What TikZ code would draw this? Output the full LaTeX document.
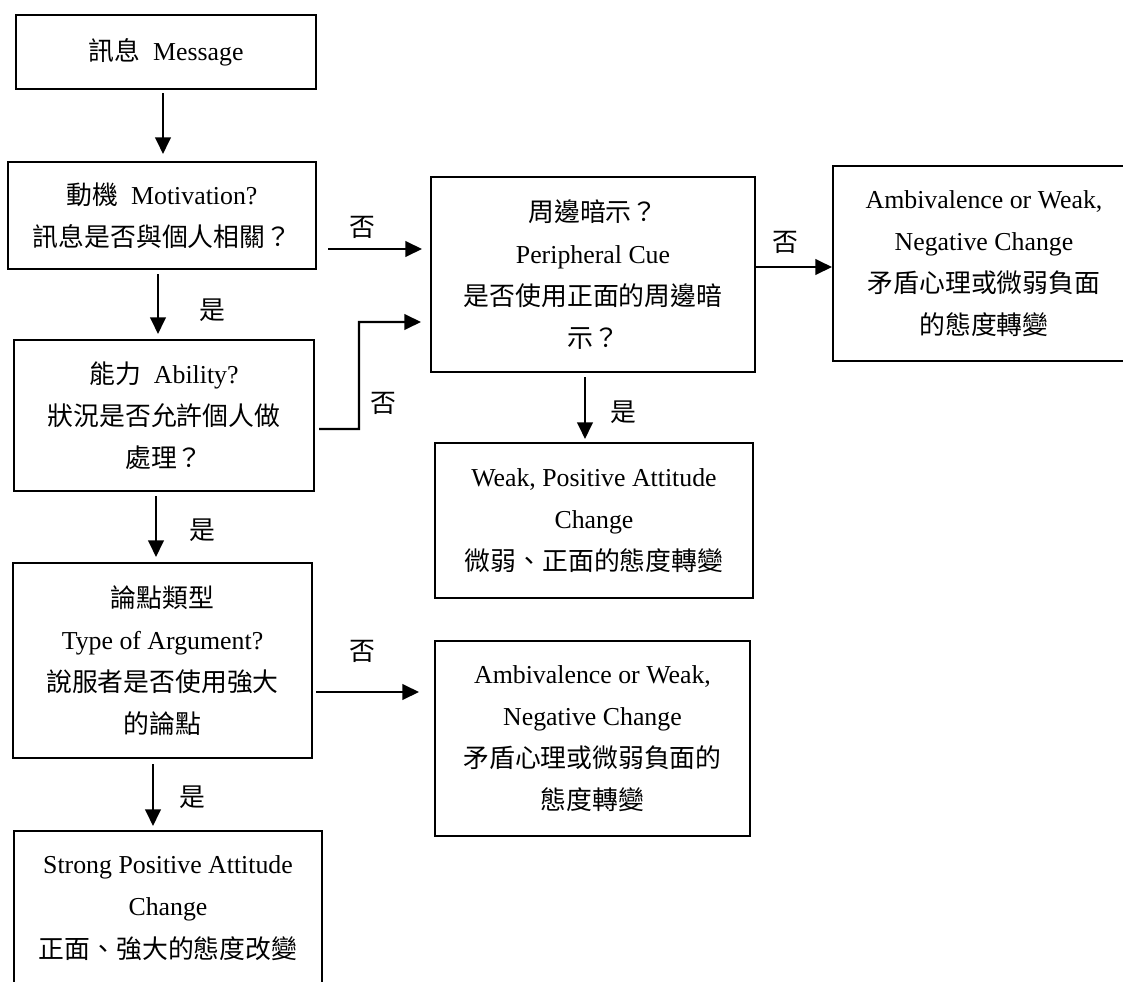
\documentclass[tikz,border=0pt]{standalone}
\usepackage{fontspec}
\setmainfont{Liberation Serif}
\newfontfamily\cjk{Noto Sans CJK TC}
\newcommand{\zh}[1]{{\cjk #1}}
\usetikzlibrary{arrows.meta}
\begin{document}
\begin{tikzpicture}[x=0.02cm,y=-0.02cm,line join=miter,
  box/.style={draw,line width=1.2pt,align=center,inner sep=0pt,font=\fontsize{14.7}{24}\selectfont},
  lbl/.style={inner sep=0pt,font=\fontsize{14.7}{18}\selectfont},
  arr/.style={line width=1.2pt,-{Triangle[length=0.33cm,width=0.31cm]}}]
  \useasboundingbox (0,0) rectangle (1123,981);
  \node[box,minimum width=6cm,minimum height=1.48cm] (msg) at (166,52) {\zh{訊息}\ \ Message};
  \node[box,minimum width=6.16cm,minimum height=2.14cm] (mot) at (162,215.5)
    {\zh{動機}\ \ Motivation?\\ \zh{訊息是否與個人相關？}};
  \node[box,minimum width=6cm,minimum height=3.02cm] (abl) at (164,415.5)
    {\zh{能力}\ \ Ability?\\ \zh{狀況是否允許個人做}\\ \zh{處理？}};
  \node[box,minimum width=5.98cm,minimum height=3.9cm] (arg) at (162.5,660.5)
    {\zh{論點類型}\\ Type of Argument?\\ \zh{說服者是否使用強大}\\ \zh{的論點}};
  \node[box,minimum width=6.16cm,minimum height=3.08cm] (str) at (168,908)
    {Strong Positive Attitude\\ Change\\ \zh{正面、強大的態度改變}};
  \node[box,minimum width=6.48cm,minimum height=3.9cm] (per) at (593,274.5)
    {\zh{周邊暗示？}\\ Peripheral Cue\\ \zh{是否使用正面的周邊暗}\\ \zh{示？}};
  \node[box,minimum width=6.04cm,minimum height=3.9cm] (amb1) at (984,263.5)
    {Ambivalence or Weak,\\ Negative Change\\ \zh{矛盾心理或微弱負面}\\ \zh{的態度轉變}};
  \node[box,minimum width=6.36cm,minimum height=3.1cm] (weak) at (594,520.5)
    {Weak, Positive Attitude\\ Change\\ \zh{微弱、正面的態度轉變}};
  \node[box,minimum width=6.3cm,minimum height=3.9cm] (amb2) at (592.5,738.5)
    {Ambivalence or Weak,\\ Negative Change\\ \zh{矛盾心理或微弱負面的}\\ \zh{態度轉變}};
  \draw[arr,shorten <=0.06cm,shorten >=0.14cm] ([xshift=-0.06cm]msg.south) -- ([xshift=-0.06cm]msg.south |- mot.north);
  \draw[arr,shorten <=0.08cm,shorten >=0.1cm] ([xshift=-0.08cm]mot.south) -- ([xshift=-0.08cm]mot.south |- abl.north);
  \draw[arr,shorten <=0.08cm,shorten >=0.1cm] ([xshift=-0.16cm]abl.south) -- ([xshift=-0.16cm]abl.south |- arg.north);
  \draw[arr,shorten <=0.1cm,shorten >=0.08cm] ([xshift=-0.19cm]arg.south) -- ([xshift=-0.19cm]arg.south |- str.north);
  \draw[arr,shorten <=0.08cm,shorten >=0.06cm] ([xshift=-0.16cm]per.south) -- ([xshift=-0.16cm]per.south |- weak.north);
  \draw[arr,shorten <=0.22cm,shorten >=0.16cm] ([yshift=-0.67cm]mot.east) -- ([yshift=-0.67cm]mot.east -| per.west);
  \coordinate (ablbend) at (359,429);
  \draw[arr,shorten <=0.08cm,shorten >=0.18cm] ([yshift=-0.27cm]abl.east) -- (ablbend) |- ([yshift=-0.95cm]per.west);
  \draw[arr] ([yshift=0.15cm]per.east) -- ([yshift=0.15cm]per.east -| amb1.west);
  \draw[arr,shorten <=0.06cm,shorten >=0.3cm] ([yshift=-0.63cm]arg.east) -- ([yshift=-0.63cm]arg.east -| amb2.west);
  \foreach \nm/\x/\y/\t in {yes1/212/310/是,yes2/202/530/是,yes3/192/797/是,yes4/623/412/是,
      no1/362/227/否,no2/383/403/否,no3/785/242/否,no4/362/651/否}
    \node[lbl] (\nm) at (\x,\y) {\zh{\t}};
\end{tikzpicture}
\end{document}
